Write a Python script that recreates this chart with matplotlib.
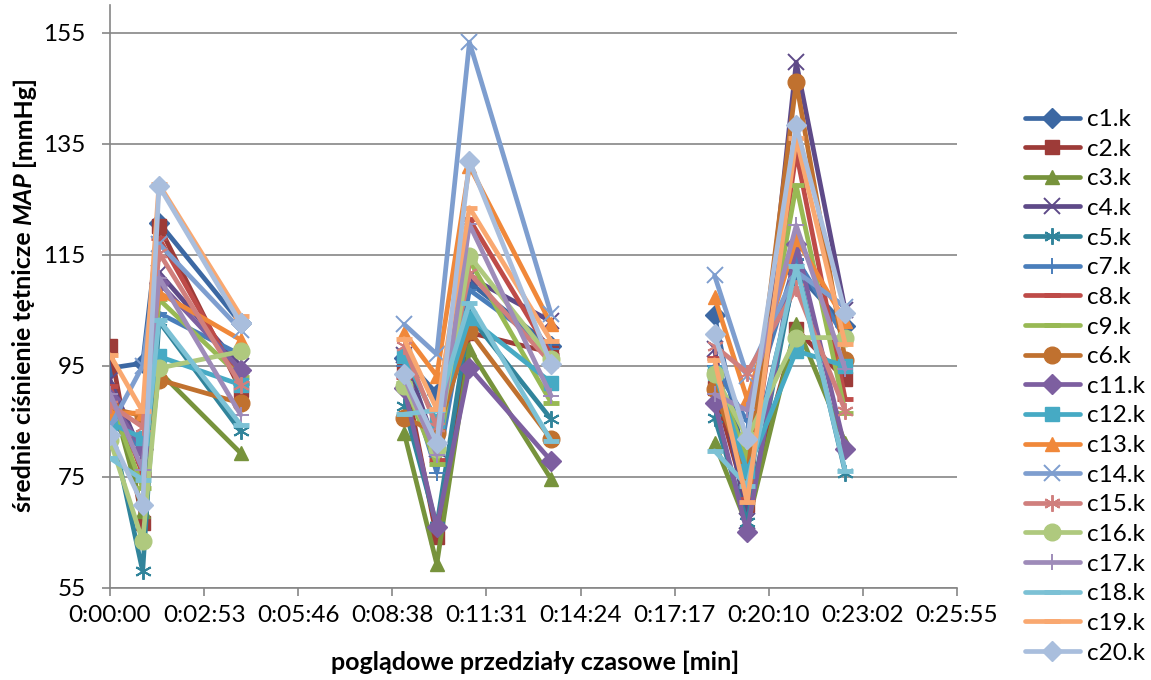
import numpy as np
import matplotlib
matplotlib.use('Agg')
import matplotlib.pyplot as plt

# czasy pomiarow [s] w trzech przedzialach
group_times = [[0, 60, 90, 240], [540, 600, 660, 810], [1110, 1170, 1260, 1350]]

x_tick_labels = ['0:00:00', '0:02:53', '0:05:46', '0:08:38', '0:11:31',
                 '0:14:24', '0:17:17', '0:20:10', '0:23:02', '0:25:55']
y_ticks = [55, 75, 95, 115, 135, 155]

labels = ['c1.k', 'c2.k', 'c3.k', 'c4.k', 'c5.k', 'c7.k', 'c8.k', 'c9.k', 'c6.k', 'c11.k',
          'c12.k', 'c13.k', 'c14.k', 'c15.k', 'c16.k', 'c17.k', 'c18.k', 'c19.k', 'c20.k']

# MAP [mmHg], 4 punkty na przedzial
c1 = [94.6, 95.5, 120.8, 102.7, 96.5, 90.0, 110.0, 98.5, 104.1, 75.0, 111.9, 102.2]
c2 = [98.5, 66.7, 120.2, 90.7, 94.0, 64.1, 101.0, 97.4, 91.0, 70.0, 101.6, 92.6]
c3 = [90.7, 68.8, 94.0, 79.3, 83.0, 59.3, 98.0, 74.6, 81.2, 66.2, 102.5, 81.2]
c4 = [92.5, 78.7, 111.8, 94.9, 97.0, 80.0, 111.0, 103.0, 98.0, 67.0, 149.7, 105.0]
c5 = [85.3, 58.0, 103.0, 83.2, 87.8, 66.2, 104.0, 85.4, 85.7, 66.8, 113.5, 75.8]
c7 = [85.0, 80.0, 104.5, 97.0, 95.0, 75.8, 108.7, 98.0, 95.0, 85.0, 114.3, 100.0]
c8 = [91.3, 75.5, 118.0, 92.0, 93.0, 78.0, 121.4, 97.0, 96.5, 71.0, 133.5, 89.0]
c9 = [89.0, 73.0, 107.0, 93.0, 92.0, 77.3, 114.0, 88.4, 94.0, 78.2, 127.5, 86.6]
c6 = [87.4, 86.0, 92.5, 88.3, 85.7, 83.0, 101.3, 81.8, 90.8, 75.0, 146.1, 96.0]
c11 = [89.0, 80.0, 110.0, 94.3, 91.0, 65.9, 94.7, 77.9, 88.4, 65.0, 117.0, 80.0]
c12 = [84.7, 82.0, 96.7, 91.6, 96.8, 85.0, 103.7, 92.0, 93.8, 76.0, 97.7, 95.0]
c13 = [86.5, 86.5, 108.2, 99.7, 101.0, 93.2, 131.0, 102.5, 107.4, 89.0, 117.9, 103.0]
c14 = [84.0, 95.0, 117.0, 101.5, 102.5, 97.1, 153.3, 104.3, 111.3, 93.2, 112.0, 105.6]
c15 = [88.0, 84.0, 115.4, 91.6, 98.6, 84.0, 111.7, 95.5, 98.6, 93.8, 109.0, 86.9]
c16 = [81.7, 63.4, 94.6, 97.6, 91.4, 80.0, 114.8, 96.2, 93.5, 82.0, 100.1, 100.1]
c17 = [90.0, 76.3, 110.9, 86.2, 93.0, 79.0, 120.5, 89.6, 89.9, 87.0, 120.3, 94.4]
c18 = [78.4, 74.5, 103.3, 84.4, 86.3, 87.0, 106.3, 81.5, 79.7, 73.4, 113.0, 76.1]
c19 = [97.0, 86.8, 127.7, 104.0, 99.9, 87.2, 123.5, 99.5, 96.1, 70.4, 136.0, 98.9]
c20 = [82.6, 70.0, 127.4, 102.7, 93.5, 81.2, 131.9, 95.3, 100.7, 81.8, 138.3, 104.6]

series = [c1, c2, c3, c4, c5, c7, c8, c9, c6, c11, c12, c13, c14, c15, c16, c17, c18, c19, c20]

colors = ['#3C68A3', '#9D3B38', '#77933C', '#5E4A88', '#31849B', '#4A7EBB', '#BE4B48',
          '#98B954', '#C0712F', '#7D5FA0', '#46AAC4', '#F0883A', '#7E9ECF', '#D07F7D',
          '#AFC97E', '#9E8BB9', '#7CC1D5', '#F9A870', '#A9BEDD']
star = (6, 2, 0)
markers = ['D', 's', '^', 'x', star, '+', '_', '_', 'o', 'D', 's', '^', 'x', star, 'o', '+', '_', '_', 'D']
msizes = {'D': 10, 's': 10, '^': 10, 'x': 11, star: 12, '+': 12, '_': 11, 'o': 12}
mews = {'D': 1, 's': 1, '^': 1, 'x': 1.4, star: 1.4, '+': 1.4, '_': 3.5, 'o': 1}

FONT = ['Lato', 'DejaVu Sans']
plt.rcParams['font.family'] = FONT

fig = plt.figure(figsize=(11.51, 6.8), dpi=100)
ax = fig.add_axes([110 / 1151, 92 / 680, 847 / 1151, 583 / 680])

for i, (lab, vals) in enumerate(zip(labels, series)):
    m = markers[i]
    for g, t in enumerate(group_times):
        ax.plot(t, vals[4 * g:4 * g + 4], color=colors[i], lw=3.4, marker=m,
                ms=msizes[m], mew=mews[m], mec=colors[i], mfc=colors[i],
                solid_capstyle='round', solid_joinstyle='round',
                label=lab if g == 0 else None, zorder=3 + i * 0.01)

ax.set_xlim(0, 9 * 172.8)
ax.set_ylim(55, 160)
ax.set_xticks(np.arange(len(x_tick_labels)) * 172.8)
ax.set_xticklabels(x_tick_labels)
ax.set_yticks(y_ticks)

grey = '#868686'
ax.yaxis.grid(True, color=grey, lw=1.2)
ax.set_axisbelow(True)
for s in ['top', 'right']:
    ax.spines[s].set_visible(False)
for s in ['left', 'bottom']:
    ax.spines[s].set_color(grey)
    ax.spines[s].set_linewidth(1.2)
ax.tick_params(axis='both', direction='out', length=5.5, width=1.2, color=grey,
               labelsize=17.5, labelcolor='black')
ax.tick_params(axis='x', pad=7)
ax.tick_params(axis='y', pad=12)

fig.text(535 / 1151, 18 / 680, 'poglądowe przedziały czasowe [min]', ha='center',
         va='center', fontsize=18, fontweight='bold')

# opis osi Y z kursywa dla MAP
parts = [('średnie ciśnienie tętnicze', 'normal'), ('MAP', 'italic'), ('[mmHg]', 'normal')]
fig.canvas.draw()
r = fig.canvas.get_renderer()
fs = 18
gap = 0.25 * fs * 100 / 72
pieces = []
for s, st in parts:
    t = fig.text(0, 0, s, rotation=90, rotation_mode='anchor', ha='left', va='baseline',
                 fontsize=fs, fontweight='bold', fontstyle=st)
    pieces.append(t)
lengths = [p.get_window_extent(r).height for p in pieces]
total = sum(lengths) + gap * (len(parts) - 1)
y0 = 386 - total / 2
for p, L in zip(pieces, lengths):
    p.set_position((31 / 1151, y0 / 680))
    y0 += L + gap

fig.legend(loc='upper left', bbox_to_anchor=(1025 / 1151, 1 - 109 / 680), frameon=False,
           borderaxespad=0, borderpad=0, handlelength=2.25, handletextpad=0.3,
           labelspacing=0.355, fontsize=17.5)

fig.savefig('out.png', dpi=100)
